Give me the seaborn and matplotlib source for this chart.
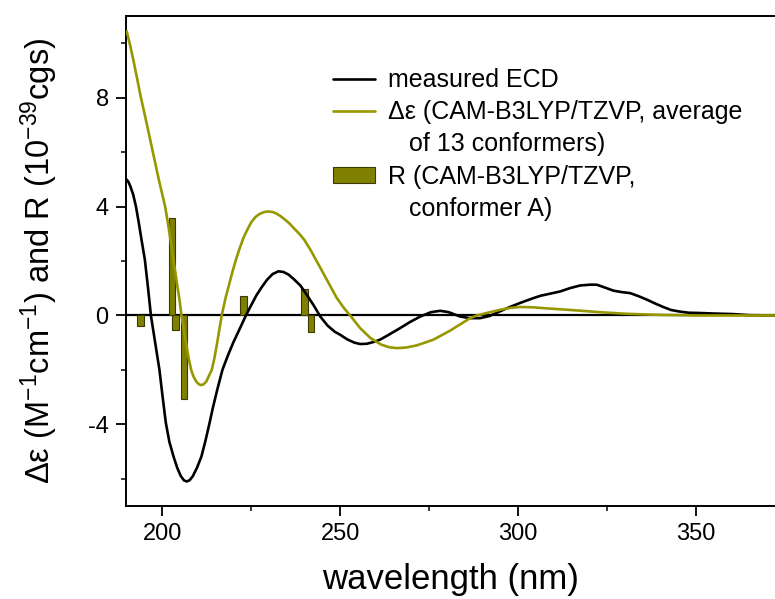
import matplotlib
matplotlib.use("Agg")
import matplotlib.pyplot as plt
import seaborn as sns
import pandas as pd
from matplotlib.lines import Line2D
from matplotlib.patches import Patch

# measured ECD (black)
meas_wl = [190.0, 190.5, 191.0, 191.8, 192.6, 193.4, 194.2, 195.1, 196.0, 196.8, 198.0,
           199.2, 200.1, 201.0, 202.0, 203.2, 204.2, 205.2, 206.1, 206.9, 207.7, 208.6,
           209.8, 211.0, 212.1, 213.2, 214.2, 215.5, 216.9, 218.5, 220.0, 221.8, 223.5,
           225.0, 226.5, 228.0, 229.5, 231.0, 232.6, 234.0, 235.5, 237.0, 238.8, 240.5,
           242.5, 244.4, 246.5, 248.5, 250.0, 252.0, 254.0, 255.6, 257.5, 259.5, 261.2,
           263.5, 266.9, 269.5, 272.5, 275.5, 278.1, 280.5, 283.7, 286.5, 289.3, 292.0,
           294.9, 297.5, 300.6, 303.5, 306.2, 309.0, 311.8, 314.5, 317.4, 320.2, 322.1,
           324.5, 326.8, 329.0, 331.5, 334.0, 336.2, 338.5, 340.8, 343.0, 345.5, 348.0,
           351.1, 355.0, 360.4, 365.0, 372.0]
meas_de = [4.99, 4.9, 4.75, 4.45, 4.0, 3.4, 2.75, 2.05, 1.0, 0.0, -1.0,
           -2.0, -3.0, -3.95, -4.65, -5.2, -5.6, -5.9, -6.06, -6.1, -6.05, -5.9,
           -5.58, -5.18, -4.62, -4.0, -3.4, -2.7, -2.0, -1.45, -0.98, -0.48, 0.0,
           0.38, 0.75, 1.05, 1.32, 1.52, 1.62, 1.6, 1.5, 1.33, 1.1, 0.78,
           0.38, -0.04, -0.38, -0.6, -0.71, -0.88, -1.0, -1.05, -1.04, -0.97, -0.89,
           -0.72, -0.46, -0.25, -0.04, 0.12, 0.17, 0.12, -0.04, -0.1, -0.1, -0.02,
           0.15, 0.3, 0.46, 0.6, 0.72, 0.8, 0.88, 1.0, 1.1, 1.13, 1.13,
           1.02, 0.91, 0.86, 0.82, 0.7, 0.58, 0.44, 0.31, 0.2, 0.14, 0.1,
           0.09, 0.07, 0.05, 0.01, 0.0]

# calculated Δε (average of 13 conformers, olive)
calc_wl = [190.0, 191.0, 192.0, 193.0, 194.0, 195.7, 197.3, 199.0, 200.8, 201.7, 202.5,
           203.3, 204.1, 204.8, 205.4, 206.1, 206.8, 207.4, 208.1, 208.8, 209.5, 210.2,
           210.9, 211.6, 212.4, 213.1, 213.9, 214.6, 215.3, 216.0, 216.7, 217.7, 218.7,
           219.7, 220.7, 221.7, 222.8, 223.9, 225.0, 226.2, 227.5, 228.7, 229.8, 231.0,
           232.0, 233.2, 234.5, 235.8, 237.0, 238.5, 239.9, 241.6, 244.0, 246.5, 249.0,
           251.0, 252.8, 255.5, 258.5, 261.5, 263.8, 265.9, 268.5, 271.5, 274.0, 276.2,
           281.0, 286.5, 288.4, 291.5, 295.0, 298.0, 300.6, 304.0, 308.0, 313.7, 318.0,
           323.0, 330.5, 339.9, 350.0, 360.0, 372.0]
calc_de = [10.44, 9.9, 9.3, 8.65, 8.0, 7.0, 6.03, 5.0, 4.0, 3.3, 2.6,
           1.9, 1.19, 0.6, 0.0, -0.55, -1.1, -1.55, -2.0, -2.25, -2.42, -2.52,
           -2.56, -2.53, -2.42, -2.22, -2.0, -1.6, -1.1, -0.55, 0.0, 0.6, 1.1,
           1.6, 2.05, 2.45, 2.85, 3.15, 3.42, 3.62, 3.74, 3.8, 3.82, 3.8,
           3.75, 3.65, 3.52, 3.37, 3.2, 3.0, 2.78, 2.42, 1.85, 1.25, 0.65,
           0.28, 0.0, -0.45, -0.83, -1.07, -1.17, -1.2, -1.18, -1.1, -0.99, -0.89,
           -0.55, -0.1, 0.0, 0.1, 0.21, 0.28, 0.31, 0.3, 0.26, 0.21, 0.17,
           0.12, 0.06, 0.02, 0.0, 0.0, 0.0]

# rotatory strengths of conformer A (sticks)
rot_wl = [193.9, 202.7, 203.8, 206.1, 222.8, 239.9, 241.8]
rot_r = [-0.37, 3.59, -0.55, -3.06, 0.72, 0.97, -0.59]

xticks = [200, 250, 300, 350]
yticks = [-4, 0, 4, 8]

sns.set_theme(style="ticks")
plt.rcParams["font.family"] = ["Liberation Sans", "DejaVu Sans"]
plt.rcParams["mathtext.default"] = "regular"
plt.rcParams["text.color"] = "black"
plt.rcParams["axes.labelcolor"] = "black"

OLIVE_LINE = "#979700"
OLIVE_BAR = "#808000"

fig = plt.figure(figsize=(7.75, 5.99), dpi=100)
ax = fig.add_axes([126 / 775, 1 - 506 / 599, 1 - 126 / 775, (506 - 16) / 599])

df_meas = pd.DataFrame({"wl": meas_wl, "de": meas_de})
df_calc = pd.DataFrame({"wl": calc_wl, "de": calc_de})

ax.axhline(0, color="black", lw=1.6, zorder=1)
ax.bar(rot_wl, rot_r, width=1.9, color=OLIVE_BAR, edgecolor="#3a3a00", linewidth=0.8, zorder=2)
sns.lineplot(data=df_meas, x="wl", y="de", ax=ax, color="black", lw=1.9, sort=False, zorder=3)
sns.lineplot(data=df_calc, x="wl", y="de", ax=ax, color=OLIVE_LINE, lw=1.9, sort=False, zorder=3)

ax.set_xlim(189.8, 372.2)
ax.set_ylim(-7.0, 11.0)
ax.set_xticks(xticks)
ax.set_xticks([225, 275, 325], minor=True)
ax.set_yticks(yticks)
ax.set_yticks([-6, -2, 2, 6, 10], minor=True)
ax.set_yticklabels([str(v) for v in yticks])
ax.tick_params(axis="both", which="major", direction="out", length=7, width=1.3,
               labelsize=17, pad=5.5, colors="black")
ax.tick_params(axis="both", which="minor", direction="out", length=3.8, width=1.3)
ax.tick_params(axis="x", which="both", bottom=True)
ax.tick_params(axis="y", which="both", left=True)

for s in ["left", "bottom", "top"]:
    ax.spines[s].set_linewidth(1.4)
    ax.spines[s].set_color("black")
ax.spines["right"].set_visible(False)

ax.set_xlabel("wavelength (nm)", fontsize=25, labelpad=13, color="black")
ax.set_ylabel("Δε (M$^{-1}$cm$^{-1}$) and R (10$^{-39}$cgs)", fontsize=23.5, labelpad=20,
              color="black")

handles = [Line2D([], [], color="black", lw=1.9),
           Line2D([], [], color=OLIVE_LINE, lw=1.9),
           Line2D([], [], color="none"),
           Patch(facecolor=OLIVE_BAR, edgecolor="#3a3a00", linewidth=0.8),
           Line2D([], [], color="none")]
labels = ["measured ECD",
          "Δε (CAM-B3LYP/TZVP, average",
          "   of 13 conformers)",
          "R (CAM-B3LYP/TZVP,",
          "   conformer A)"]
leg = ax.legend(handles, labels, loc="upper left", bbox_to_anchor=(0.319, 0.894),
                frameon=False, fontsize=18, handlelength=1.68, handleheight=0.6,
                handletextpad=0.5, labelspacing=0.33, borderpad=0, borderaxespad=0)
for t in leg.get_texts():
    t.set_color("black")

fig.savefig("out.png", dpi=100)
